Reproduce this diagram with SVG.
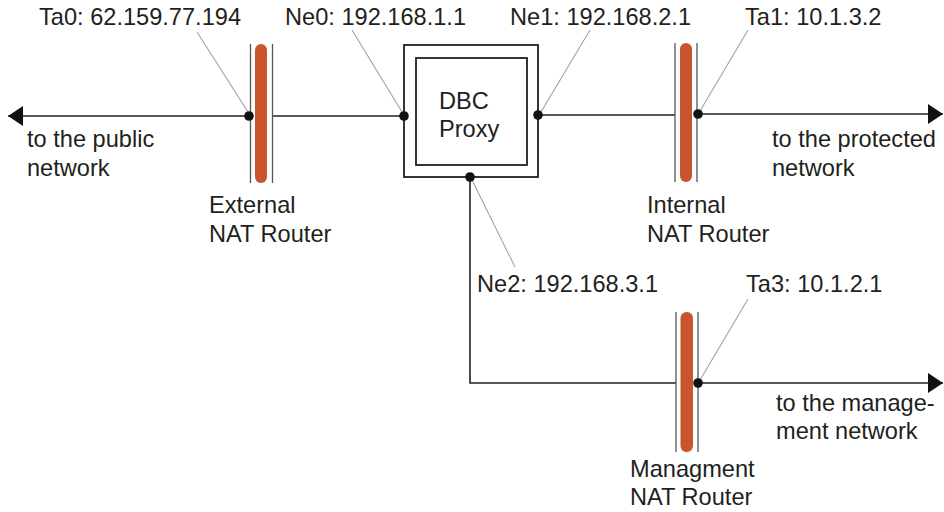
<svg xmlns="http://www.w3.org/2000/svg" width="944" height="512" viewBox="0 0 944 512">
<style>
text{font-family:"Liberation Sans",Arial,sans-serif;font-size:23.6px;fill:#231f20}
.ln{stroke:#231f20;stroke-width:1.6;fill:none}
.ld{stroke:#9aa3ad;stroke-width:1.1;fill:none}
.rl{stroke:#555;stroke-width:1.3;fill:none}
.bar{fill:#c8552b}
.dot{fill:#111}
.box{fill:#fff;stroke:#231f20;stroke-width:1.8}
</style>
<defs>
<marker id="ah" markerWidth="16" markerHeight="20" refX="15" refY="10" orient="auto" markerUnits="userSpaceOnUse">
<path d="M0,0 L15,10 L0,20 Z" fill="#111"/>
</marker>
</defs>
<rect width="944" height="512" fill="#fff"/>
<g id="connectors">
<line class="ln" x1="249" y1="116" x2="8" y2="116" marker-end="url(#ah)"/>
<line class="ln" x1="273" y1="116" x2="404" y2="116"/>
<line class="ln" x1="538" y1="115" x2="675" y2="115"/>
<line class="ln" x1="698" y1="114" x2="943" y2="114" marker-end="url(#ah)"/>
<polyline class="ln" points="470,177 470,383 676,383"/>
<line class="ln" x1="698" y1="383" x2="943" y2="383" marker-end="url(#ah)"/>
<line class="ld" x1="197" y1="32" x2="248" y2="112"/>
<line class="ld" x1="352" y1="30" x2="402" y2="112"/>
<line class="ld" x1="590" y1="30" x2="541" y2="112"/>
<line class="ld" x1="748" y1="30" x2="700" y2="111"/>
<line class="ld" x1="472" y1="180" x2="515" y2="267"/>
<line class="ld" x1="748" y1="299" x2="700" y2="380"/>
</g>
<g id="external-router">
<line class="rl" x1="250.5" y1="44" x2="250.5" y2="183"/>
<line class="rl" x1="272.5" y1="44" x2="272.5" y2="183"/>
<rect class="bar" x="255" y="44" width="12" height="139" rx="6"/>
<circle class="dot" cx="249" cy="116" r="4.8"/>
<text x="209" y="213">External</text>
<text x="209" y="242">NAT Router</text>
</g>
<g id="dbc-proxy">
<rect class="box" x="404" y="45" width="134" height="132"/>
<rect class="box" x="416" y="58" width="111" height="107"/>
<text x="439" y="109">DBC</text>
<text x="439" y="137">Proxy</text>
<circle class="dot" cx="404" cy="116" r="4.8"/>
<circle class="dot" cx="538" cy="115" r="4.8"/>
<circle class="dot" cx="470" cy="177" r="4.8"/>
</g>
<g id="internal-router">
<line class="rl" x1="675" y1="43" x2="675" y2="182"/>
<line class="rl" x1="697" y1="43" x2="697" y2="182"/>
<rect class="bar" x="680" y="43" width="12" height="139" rx="6"/>
<circle class="dot" cx="698" cy="114" r="4.8"/>
<text x="647" y="213">Internal</text>
<text x="647" y="242">NAT Router</text>
</g>
<g id="management-router">
<line class="rl" x1="676" y1="312" x2="676" y2="452"/>
<line class="rl" x1="698" y1="312" x2="698" y2="452"/>
<rect class="bar" x="680.5" y="312" width="12.5" height="140" rx="6"/>
<circle class="dot" cx="698" cy="383" r="4.8"/>
<text x="630" y="477">Managment</text>
<text x="630" y="505">NAT Router</text>
</g>
<g id="labels">
<text x="39" y="25">Ta0: 62.159.77.194</text>
<text x="285" y="25">Ne0: 192.168.1.1</text>
<text x="510" y="25">Ne1: 192.168.2.1</text>
<text x="745" y="25">Ta1: 10.1.3.2</text>
<text x="27" y="147">to the public</text>
<text x="27" y="176">network</text>
<text x="772" y="147">to the protected</text>
<text x="772" y="176">network</text>
<text x="477" y="292">Ne2: 192.168.3.1</text>
<text x="746" y="292">Ta3: 10.1.2.1</text>
<text x="776" y="411">to the manage-</text>
<text x="776" y="439">ment network</text>
</g>
</svg>
